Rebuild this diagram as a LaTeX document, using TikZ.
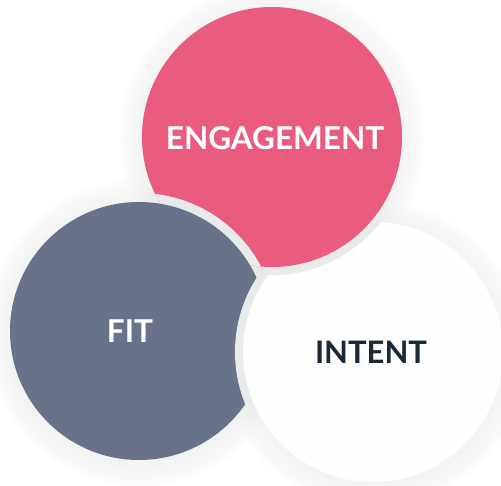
\documentclass[tikz,border=0pt]{standalone}
\usepackage{fontspec}
\setmainfont{Lato}
\definecolor{pinkc}{HTML}{EA5C7F}
\definecolor{grayc}{HTML}{68738A}
\definecolor{haloc}{HTML}{E8EBE9}
\definecolor{darkc}{HTML}{1B2838}
\definecolor{whitec}{HTML}{FEFEFE}
\tikzset{
  lab/.style={font=\fontsize{31.5}{32}\selectfont\bfseries, inner sep=0pt, anchor=center},
  softshadow/.style={fill=black!30!haloc, fill opacity=0.012, draw=none}
}
\begin{document}
\begin{tikzpicture}[x=1pt,y=-1pt]
\useasboundingbox (0,0) rectangle (501,486);
\fill[white] (0,0) rectangle (501,486);
% soft shadows
\foreach \r in {130,133,...,154}{
  \fill[softshadow] (272,139) circle[radius=\r];
  \fill[softshadow] (139,333) circle[radius=\r];
  \fill[softshadow] (373,354) circle[radius=\r];
}
% white circle, with the pink circle's halo on it
\fill[whitec] (373,352) circle[radius=130];
\begin{scope}
  \clip (373,352) circle[radius=130];
  \fill[haloc] (272,137) circle[radius=138];
\end{scope}
% pink, with the gray circle's halo on it
\fill[pinkc] (272,137) circle[radius=130];
\begin{scope}
  \clip (272,137) circle[radius=130];
  \fill[haloc] (139,331) circle[radius=138];
\end{scope}
% gray
\fill[grayc] (139,331) circle[radius=129];
% white over the gray, with its halo (clip slightly wider, to hide the rim)
\begin{scope}
  \clip (139,331) circle[radius=130];
  \fill[haloc] (373,352) circle[radius=138];
  \fill[whitec] (373,352) circle[radius=130];
\end{scope}
\node[lab, text=white] (eng) at (275,138) {ENGAGEMENT};
\node[lab, text=white] (fit) at (130,331) {FIT};
\node[lab, text=darkc, font=\fontsize{31}{32}\selectfont\bfseries] (int) at (371,352) {INTENT};
\end{tikzpicture}
\end{document}
